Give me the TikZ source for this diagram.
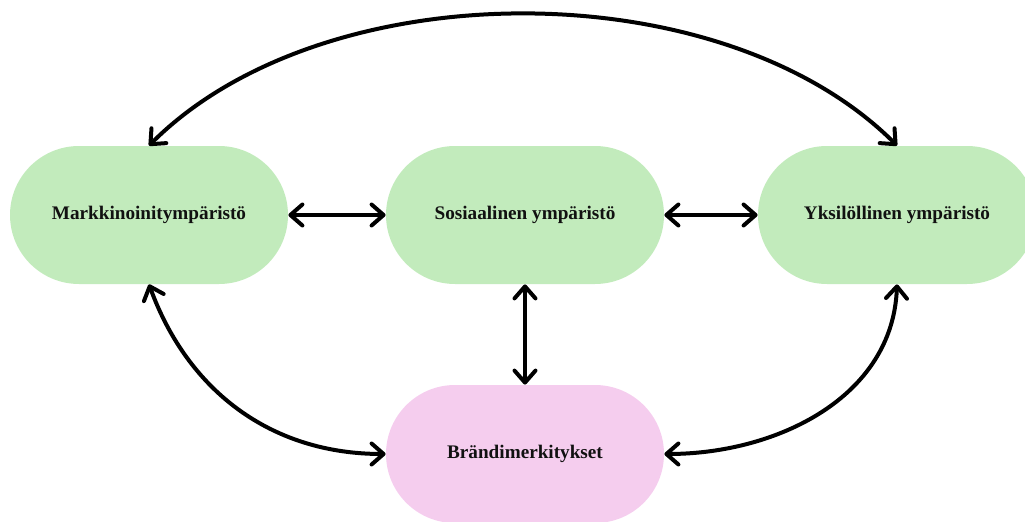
\documentclass[tikz,border=0pt]{standalone}
\usepackage{fontspec}
\setmainfont{Liberation Serif}
\usepackage{tikz}
\usetikzlibrary{arrows.meta}
\definecolor{envGreen}{HTML}{C2EBBC}
\definecolor{brandPink}{HTML}{F5CDEE}
\definecolor{inkBlack}{HTML}{111111}

\begin{document}
\begin{tikzpicture}[x=0.5pt, y=0.5pt, font=\fontsize{9.6}{11}\selectfont\bfseries,
  env/.style={rectangle,rounded corners=34.5pt,fill=envGreen,text=inkBlack,
    minimum width=139pt,minimum height=69pt,inner sep=0pt},
  brand/.style={env,fill=brandPink},
  link/.style={{Straight Barb[length=6pt,width=10.5pt,round]}-{Straight Barb[length=6pt,width=10.5pt,round]},
    black,line width=2pt,line cap=round}]
\useasboundingbox (0,0) rectangle (1025,521);
\node[env] (mkt) at (149,306) {Markkinoinitympäristö};
\node[env] (soc) at (525,306) {Sosiaalinen ympäristö};
\node[env] (ind) at (897,306) {Yksilöllinen ympäristö};
\node[brand] (brd) at (525,67) {Brändimerkitykset};
\draw[link] (mkt) -- (soc);
\draw[link] (soc) -- (ind);
\draw[link] (soc) -- (brd);
\draw[link] (mkt.south) to[out=-70,in=180] (brd.west);
\draw[link] (ind.south) to[out=-92,in=0] (brd.east);
\draw[link] (mkt.north) to[out=45,in=135,looseness=0.85] (ind.north);
\end{tikzpicture}
\end{document}
